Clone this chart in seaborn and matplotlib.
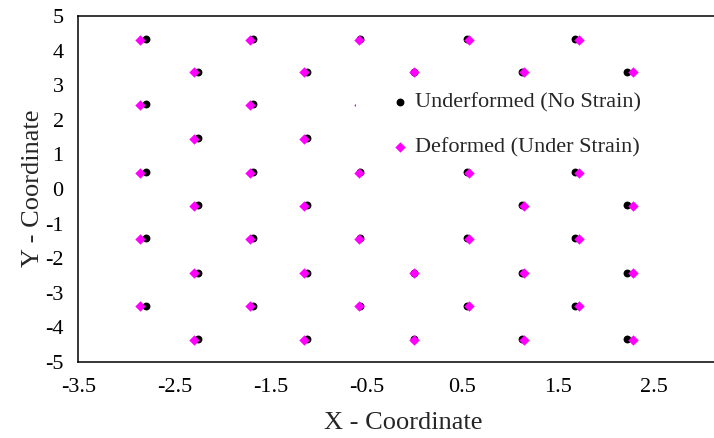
import matplotlib
matplotlib.use("Agg")
import matplotlib.pyplot as plt
from matplotlib.patches import Rectangle
import seaborn as sns
import pandas as pd

# ---- data ----
rows_y_undeformed = [4.34, 3.39, 2.45, 1.46, 0.48, -0.46, -1.42, -2.42, -3.37, -4.33]
rows_y_deformed = [4.32, 3.37, 2.43, 1.44, 0.46, -0.48, -1.44, -2.44, -3.39, -4.35]
even_x_undeformed = [-2.80, -1.68, -0.57, 0.55, 1.67]
odd_x_undeformed = [-2.25, -1.12, 0.00, 1.12, 2.22]
even_x_deformed = [-2.86, -1.71, -0.58, 0.57, 1.72]
odd_x_deformed = [-2.29, -1.15, 0.00, 1.14, 2.28]
vacancies = [(5, 2)]  # (row index, column index) with no atom

x_ticks = [-3.5, -2.5, -1.5, -0.5, 0.5, 1.5, 2.5]
x_tick_labels = ["-3.5", "-2.5", "-1.5", "-0.5", "0.5", "1.5", "2.5"]
y_ticks = [-5, -4, -3, -2, -1, 0, 1, 2, 3, 4, 5]
y_tick_labels = ["-5", "-4", "-3", "-2", "-1", "0", "1", "2", "3", "4", "5"]

label_undeformed = "Underformed (No Strain)"
label_deformed = "Deformed (Under Strain)"

# ---- build tables ----
recs_u, recs_d = [], []
for r in range(len(rows_y_undeformed)):
    xu = even_x_undeformed if r % 2 == 0 else odd_x_undeformed
    xd = even_x_deformed if r % 2 == 0 else odd_x_deformed
    for c in range(len(xu)):
        if (r, c) in vacancies:
            continue
        recs_u.append({"x": xu[c], "y": rows_y_undeformed[r]})
        recs_d.append({"x": xd[c], "y": rows_y_deformed[r]})
df_u = pd.DataFrame(recs_u)
df_d = pd.DataFrame(recs_d)

# ---- style ----
sns.set_style("white")
plt.rcParams["font.family"] = ["Liberation Serif", "DejaVu Serif"]
plt.rcParams["axes.unicode_minus"] = False

fig = plt.figure(figsize=(7.14, 4.38), dpi=100)
W, H = 714, 438
ax_left, ax_top, ax_bottom = 78.3, 16, 362
ax_width = 672
ax_h = ax_bottom - ax_top
ax = fig.add_axes([ax_left / W, 1 - ax_bottom / H, ax_width / W, ax_h / H])

sns.scatterplot(data=df_u, x="x", y="y", ax=ax, color="black", marker="o",
                s=32, linewidth=0, label=label_undeformed, zorder=3)
sns.scatterplot(data=df_d, x="x", y="y", ax=ax, color="#FF00FF", marker="D",
                s=28, linewidth=0, label=label_deformed, zorder=4)

ax.set_xlim(-3.5, 3.5)
ax.set_ylim(-5, 5)
ax.set_xticks(x_ticks)
ax.set_xticklabels(x_tick_labels)
ax.set_yticks(y_ticks)
ax.set_yticklabels(y_tick_labels)
ax.tick_params(axis="both", direction="out", length=4.5, width=1, color="#808080",
               labelsize=16, labelcolor="black")
ax.tick_params(axis="x", pad=7)
ax.tick_params(axis="y", pad=6)

for side in ["top", "left", "bottom"]:
    ax.spines[side].set_color("black")
    ax.spines[side].set_linewidth(1.1)
ax.spines["right"].set_visible(False)

ax.set_xlabel("X - Coordinate", fontsize=19)
ax.set_ylabel("Y - Coordinate", fontsize=19)
ax.xaxis.set_label_coords((403 - ax_left) / ax_width, (ax_bottom - 412) / ax_h)
ax.yaxis.set_label_coords((44 - ax_left) / ax_width, (ax_bottom - 188) / ax_h)

# white legend area (Excel legend box without border)
ax.add_patch(Rectangle(((356 - ax_left) / ax_width, (ax_bottom - 162) / ax_h),
                       (652 - 356) / ax_width, (162 - 80) / ax_h,
                       transform=ax.transAxes, facecolor="white", edgecolor="none", zorder=5))

leg = ax.legend(loc="upper left",
                bbox_to_anchor=((389 - ax_left) / ax_width, (ax_bottom - 92) / ax_h),
                frameon=False, fontsize=16, borderpad=0, handlelength=1.0,
                handletextpad=0.15, labelspacing=1.1, borderaxespad=0)
leg.set_zorder(6)

fig.savefig("out.png", dpi=100)
